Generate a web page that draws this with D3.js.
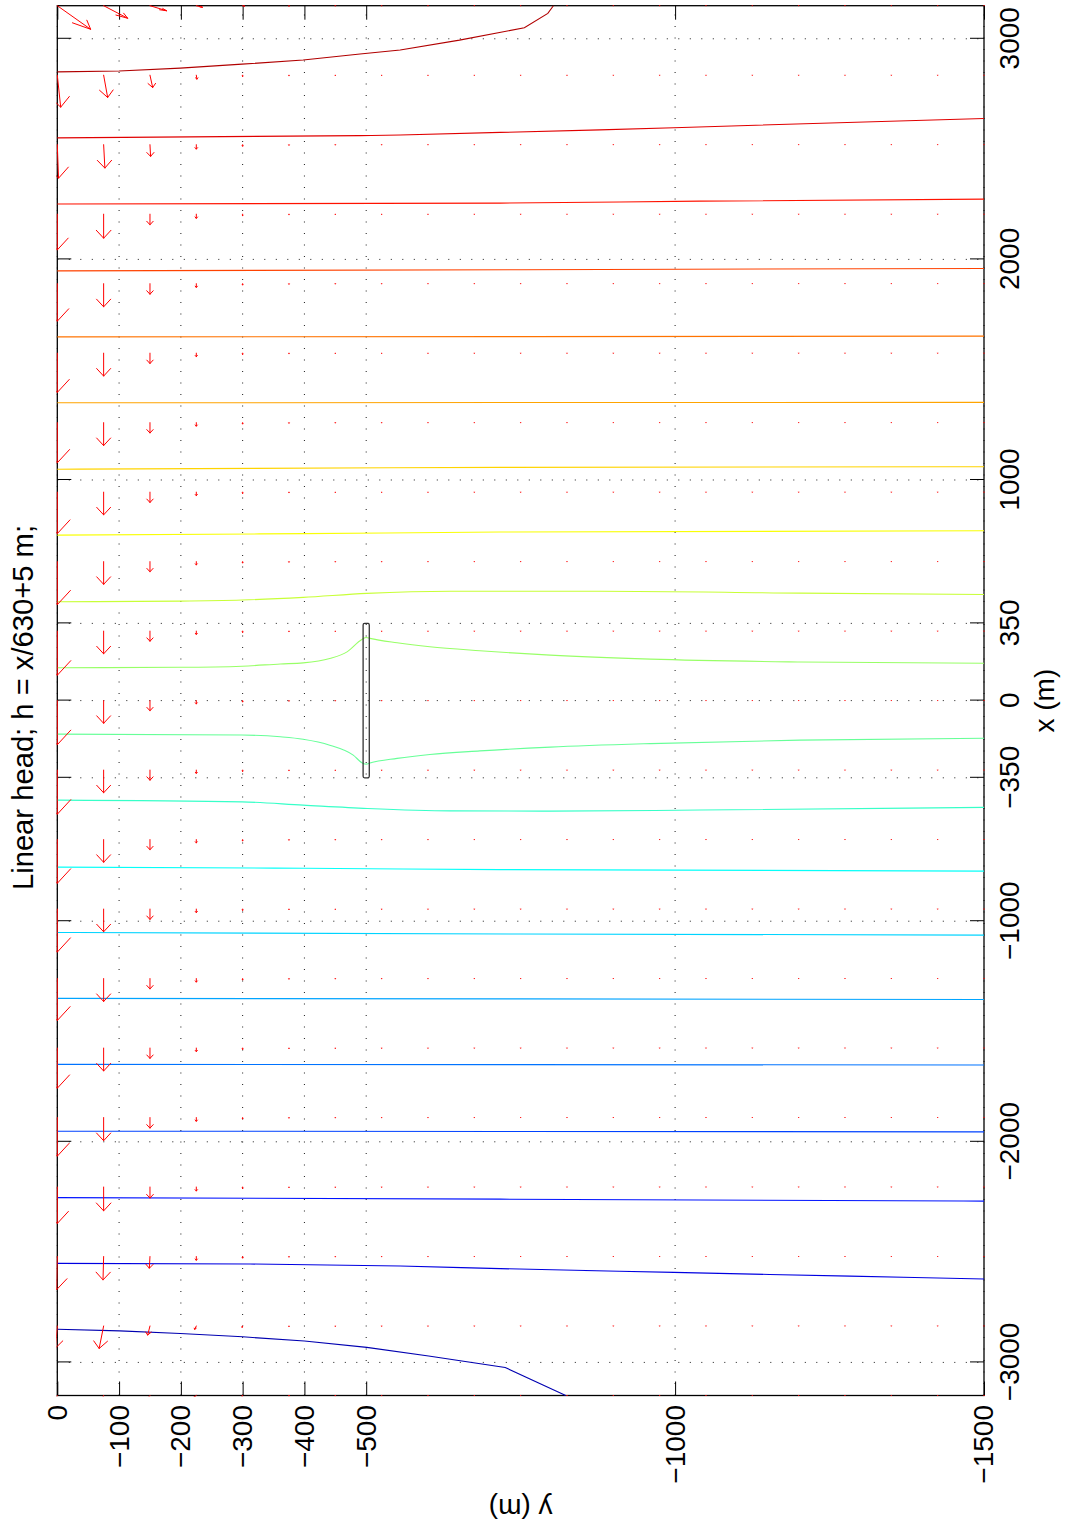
<!DOCTYPE html>
<html>
<head>
<meta charset="utf-8">
<script src="https://cdn.jsdelivr.net/npm/d3@7"></script>
<style>
  body { margin: 0; background: #fff; }
  text { font-family: "Liberation Sans", Arial, Helvetica, sans-serif; }
</style>
</head>
<body>
<script>
// the figure was printed landscape and the page turned a quarter left,
// so everything is drawn in the upright frame inside a rotated group
const W = 1069, H = 1530;
const boxL = 134.5, boxR = 1524.3, boxT = 57.3, boxB = 984;

const xTicks = [-3000, -2000, -1000, -350, 0, 350, 1000, 2000, 3000];
const yTicks = [0, -100, -200, -300, -400, -500, -1000, -1500];

// head contours, h = x/630+5
const contourLevels = [0.48, 0.95, 1.43, 1.90, 2.38, 2.86, 3.33, 3.81, 4.29, 4.76,
                       5.24, 5.71, 6.19, 6.67, 7.14, 7.62, 8.10, 8.57, 9.05, 9.52];
// each line as [y, x] points
const contourLines = [
  [[0,-2850],[-101,-2857],[-199,-2869],[-300,-2884],[-400,-2903],[-501,-2932],[-601,-2971],[-725,-3023],[-823,-3150]],
  [[0,-2551],[-312,-2554],[-555,-2563],[-717,-2575],[-998,-2592],[-1283,-2609],[-1500,-2622]],
  [[0,-2253],[-717,-2260],[-1500,-2269]],
  [[0,-1952],[-750,-1953],[-1500,-1955]],
  [[0,-1649],[-750,-1650],[-1500,-1652]],
  [[0,-1350],[-750,-1352],[-1500,-1355]],
  [[0,-1051],[-750,-1058],[-1500,-1063]],
  [[0,-755],[-400,-760],[-717,-766],[-1500,-773]],
  [[0,-451],[-299,-459],[-398,-474],[-502,-489],[-636,-500],[-798,-501],[-1040,-496],[-1500,-484]],
  [[0,-152],[-299,-156],[-361,-164],[-398,-175],[-441,-202],[-479,-247],[-495,-285],[-500,-288],[-506,-283],[-550,-262],[-603,-244],[-684,-228],[-798,-211],[-960,-195],[-1202,-179],[-1500,-171]],
  [[0,149],[-199,151],[-299,156],[-361,166],[-398,171],[-441,191],[-469,221],[-493,277],[-500,286],[-506,282],[-550,262],[-603,244],[-684,226],[-798,206],[-960,188],[-1202,175],[-1500,169]],
  [[0,448],[-199,451],[-299,456],[-398,468],[-501,486],[-636,496],[-879,496],[-1202,487],[-1500,481]],
  [[0,750],[-400,757],[-717,764],[-1500,770]],
  [[0,1049],[-717,1057],[-1500,1060]],
  [[0,1350],[-750,1351],[-1500,1352]],
  [[0,1649],[-750,1650],[-1500,1652]],
  [[0,1948],[-750,1953],[-1500,1959]],
  [[0,2251],[-717,2255],[-1040,2264],[-1500,2273]],
  [[0,2551],[-490,2561],[-555,2564],[-998,2597],[-1500,2639]],
  [[0,2850],[-100,2854],[-199,2867],[-299,2885],[-398,2904],[-490,2931],[-555,2949],[-651,2994],[-756,3050],[-794,3115],[-803,3150]]
];

// the well screen
const wellX = [-350, 350];
const wellY = [-495, -505];

// quiver grid
const qRows = [3150, 2835, 2520, 2205, 1890, 1575, 1260, 945, 630, 315, 0,
               -315, -630, -945, -1260, -1575, -1890, -2205, -2520, -2835, -3150];
const qCols = [0, -75, -150, -225, -300, -375, -450, -525, -600, -675, -750,
               -825, -900, -975, -1050, -1125, -1200, -1275, -1350, -1425, -1500];
// arrow components (m on the plot) in the first five columns, one row per qRows entry
const qU = [
  [-107, -57, -23, -7, -2],
  [-145, -101, -56, -18, -6],
  [-152, -106, -53, -20, -7],
  [-162, -109, -48, -19, -7],
  [-170, -105, -48, -17, -6],
  [-178, -104, -47, -16, -6],
  [-182, -104, -47, -16, -6],
  [-188, -103, -47, -16, -6],
  [-195, -103, -46, -15, -6],
  [-200, -103, -46, -15, -6],
  [-200, -103, -46, -15, -6],
  [-200, -103, -46, -15, -6],
  [-198, -103, -46, -15, -6],
  [-195, -103, -47, -16, -6],
  [-190, -104, -47, -16, -6],
  [-182, -104, -47, -16, -6],
  [-175, -105, -48, -17, -6],
  [-165, -108, -50, -18, -7],
  [-150, -106, -53, -17, -7],
  [-100, -102, -41, -15, -6],
  [-50, -60, -25, -8, -3]
];
const qV = [
  [-54, -39, -27, -10, -3],
  [-5.5, -6.5, -4.4, -1, 0],
  [-2, -2, -1, 0, 0],
  [0, 0, 0, 0, 0], [0, 0, 0, 0, 0], [0, 0, 0, 0, 0], [0, 0, 0, 0, 0],
  [0, 0, 0, 0, 0], [0, 0, 0, 0, 0], [0, 0, 0, 0, 0], [0, 0, 0, 0, 0],
  [0, 0, 0, 0, 0], [0, 0, 0, 0, 0], [0, 0, 0, 0, 0], [0, 0, 0, 0, 0],
  [0, 0, 0, 0, 0], [0, 0, 0, 0, 0], [0, 0, 0, 0, 0],
  [1, 1, 1, 0, 0],
  [3, 7.3, 3.7, 2.6, 1],
  [10, 10, 8, 4, 1]
];
// deeper columns are only dots
const qUFar = [-2.5, -1.5, -1, -0.8, -0.6, -0.5, -0.5, -0.4, -0.4, -0.4, -0.3, -0.3, -0.3, -0.3, -0.3, -0.3];

const svg = d3.select("body").append("svg").attr("width", W).attr("height", H);
const g = svg.append("g").attr("transform", `translate(0,${H}) rotate(-90)`);

const x = d3.scaleLinear().domain([-3150, 3150]).range([boxL, boxR]);
const y = d3.scaleLinear().domain([0, -1500]).range([boxT, boxB]);
const jet = d3.scaleLinear().domain([0, 1.25, 3.75, 6.25, 8.75, 10])
  .range(["#000080", "#0000ff", "#00ffff", "#ffff00", "#ff0000", "#800000"]);

const fmt = d => d < 0 ? "\u2212" + (-d) : String(d);

// grid
g.append("g").selectAll("line").data(xTicks).join("line")
  .attr("x1", d => x(d)).attr("x2", d => x(d)).attr("y1", boxT).attr("y2", boxB)
  .attr("stroke", "#000").attr("stroke-width", 0.9).attr("stroke-dasharray", "1,10.5");
g.append("g").selectAll("line").data(yTicks).join("line")
  .attr("y1", d => y(d)).attr("y2", d => y(d)).attr("x1", boxL).attr("x2", boxR)
  .attr("stroke", "#000").attr("stroke-width", 0.9).attr("stroke-dasharray", "1,10.5");

// axes, ticks pointing in on all four sides
function styleAxis(a) {
  a.select(".domain").remove();
  a.attr("font-size", 28).attr("font-family", '"Liberation Sans", Arial, sans-serif');
  a.selectAll("text").attr("fill", "#000");
  a.selectAll(".tick line").attr("stroke", "#000").attr("stroke-width", 1);
}
g.append("g").attr("transform", `translate(0,${boxB})`)
  .call(d3.axisBottom(x).tickValues(xTicks).tickSize(-14).tickPadding(15).tickFormat(fmt))
  .call(styleAxis);
g.append("g").attr("transform", `translate(0,${boxT})`)
  .call(d3.axisTop(x).tickValues(xTicks).tickSize(-14).tickFormat(""))
  .call(styleAxis);
g.append("g").attr("transform", `translate(${boxL},0)`)
  .call(d3.axisLeft(y).tickValues(yTicks).tickSize(-14).tickPadding(9.5).tickFormat(fmt))
  .call(styleAxis);
g.append("g").attr("transform", `translate(${boxR},0)`)
  .call(d3.axisRight(y).tickValues(yTicks).tickSize(-14).tickFormat(""))
  .call(styleAxis);

g.append("rect")
  .attr("x", boxL).attr("y", boxT).attr("width", boxR - boxL).attr("height", boxB - boxT)
  .attr("fill", "none").attr("stroke", "#000").attr("stroke-width", 1.3);

// data, clipped to the axes
g.append("clipPath").attr("id", "clip").append("rect")
  .attr("x", boxL - 1).attr("y", boxT - 1).attr("width", boxR - boxL + 2).attr("height", boxB - boxT + 2);
const plot = g.append("g").attr("clip-path", "url(#clip)");

// smooth lines except the two end ones, which have a visible kink
const smooth = d3.line().curve(d3.curveMonotoneY).x(d => x(d[1])).y(d => y(d[0]));
const straight = d3.line().x(d => x(d[1])).y(d => y(d[0]));
plot.append("g").selectAll("path").data(contourLines).join("path")
  .attr("d", (d, i) => (i === 0 || i === contourLines.length - 1) ? straight(d) : smooth(d))
  .attr("fill", "none")
  .attr("stroke", (d, i) => jet(contourLevels[i]))
  .attr("stroke-width", 1.1);

// quiver arrows, heads as in matlab (alpha = beta = 0.33, in data units)
const arrows = [];
qRows.forEach((xr, i) => qCols.forEach((yc, j) => {
  arrows.push({
    x0: xr, y0: yc,
    u: j < 5 ? qU[i][j] : qUFar[j - 5],
    v: j < 5 ? qV[i][j] : 0
  });
}));
const al = 0.33, be = 0.33;
function arrowPath(a) {
  const tx = a.x0 + a.u, ty = a.y0 + a.v;
  const h1x = tx - al * (a.u + be * a.v), h1y = ty - al * (a.v - be * a.u);
  const h2x = tx - al * (a.u - be * a.v), h2y = ty - al * (a.v + be * a.u);
  return `M${x(a.x0)},${y(a.y0)}L${x(tx)},${y(ty)}` +
         `M${x(h1x)},${y(h1y)}L${x(tx)},${y(ty)}L${x(h2x)},${y(h2y)}`;
}
plot.append("g").selectAll("path").data(arrows).join("path")
  .attr("d", arrowPath)
  .attr("fill", "none")
  .attr("stroke", "#ff0000")
  .attr("stroke-width", 1)
  .attr("stroke-linecap", "round");

// well
plot.append("rect")
  .attr("x", x(wellX[0])).attr("y", y(wellY[0]))
  .attr("width", x(wellX[1]) - x(wellX[0])).attr("height", y(wellY[1]) - y(wellY[0]))
  .attr("rx", 1.5)
  .attr("fill", "none").attr("stroke", "#333").attr("stroke-width", 1.3);

// labels
g.append("text").attr("x", 822.5).attr("y", 33)
  .attr("text-anchor", "middle").attr("font-size", 29.2)
  .text("Linear head; h = x/630+5 m;");
g.append("text").attr("x", (boxL + boxR) / 2).attr("y", 1054)
  .attr("text-anchor", "middle").attr("font-size", 28)
  .text("x (m)");
g.append("text")
  .attr("transform", `translate(31,${(boxT + boxB) / 2}) rotate(-90)`)
  .attr("text-anchor", "middle").attr("font-size", 28)
  .text("y (m)");
</script>
</body>
</html>
